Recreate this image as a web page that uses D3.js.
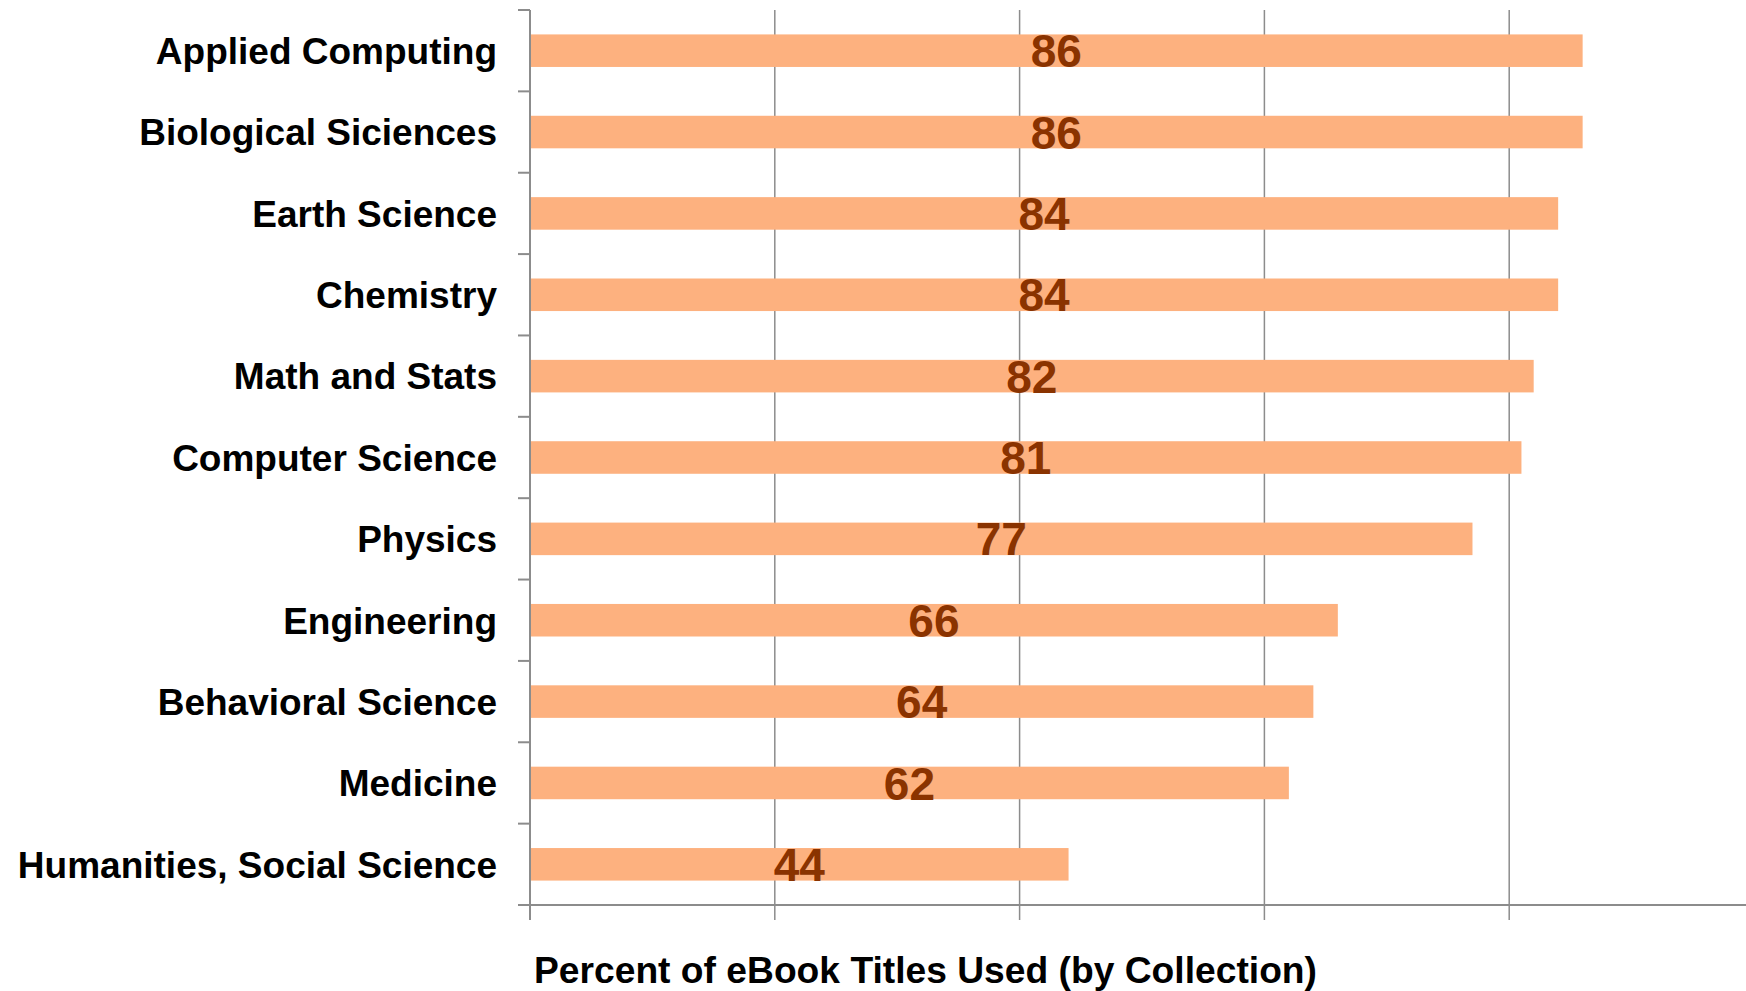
<!DOCTYPE html>
<html>
<head>
<meta charset="utf-8">
<script src="https://cdn.jsdelivr.net/npm/d3@7"></script>
<style>
  html, body { margin: 0; padding: 0; background: #fff; }
  svg { display: block; }
</style>
</head>
<body>
<svg id="chart" width="1746" height="991"></svg>
<script>
const categories = [
  "Applied Computing",
  "Biological Siciences",
  "Earth Science",
  "Chemistry",
  "Math and Stats",
  "Computer Science",
  "Physics",
  "Engineering",
  "Behavioral Science",
  "Medicine",
  "Humanities, Social Science"
];
const values = [86, 86, 84, 84, 82, 81, 77, 66, 64, 62, 44];
const xTicks = [0, 20, 40, 60, 80, 100];
const axisTitle = "Percent of eBook Titles Used (by Collection)";

(function () {
const svg = d3.select("#chart");
const W = 1746;
const plotLeft = 530, plotTop = 10, plotBottom = 905;

const x = d3.scaleLinear().domain([0, 100]).range([plotLeft, plotLeft + 1224]);
const y = d3.scaleBand().domain(categories).range([plotTop, plotBottom])
  .paddingInner(0.6).paddingOuter(0.3);

const gridColor = "#8c8c8c";
const fontFam = "'Liberation Sans', Arial, sans-serif";

// vertical gridlines (extend below axis as ticks)
svg.append("g").selectAll("line")
  .data(xTicks.filter(t => t > 0))
  .join("line")
  .attr("x1", d => x(d)).attr("x2", d => x(d))
  .attr("y1", plotTop).attr("y2", plotBottom + 15)
  .attr("stroke", gridColor).attr("stroke-width", 1.5);

// bars
svg.append("g").selectAll("rect")
  .data(categories)
  .join("rect")
  .attr("x", x(0))
  .attr("y", d => y(d))
  .attr("width", (d, i) => x(values[i]) - x(0))
  .attr("height", y.bandwidth())
  .attr("fill", "#FDB17F");

// y axis line
svg.append("line")
  .attr("x1", plotLeft).attr("x2", plotLeft)
  .attr("y1", plotTop).attr("y2", plotBottom + 15)
  .attr("stroke", gridColor).attr("stroke-width", 2);

// y axis ticks at band boundaries
const step = y.step();
const boundaries = d3.range(categories.length + 1).map(i => plotTop + i * step);
svg.append("g").selectAll("line")
  .data(boundaries)
  .join("line")
  .attr("x1", plotLeft - 12).attr("x2", plotLeft)
  .attr("y1", d => d).attr("y2", d => d)
  .attr("stroke", gridColor).attr("stroke-width", 2);

// x axis line
svg.append("line")
  .attr("x1", plotLeft - 12).attr("x2", W)
  .attr("y1", plotBottom).attr("y2", plotBottom)
  .attr("stroke", gridColor).attr("stroke-width", 2);

// category labels
svg.append("g").selectAll("text")
  .data(categories)
  .join("text")
  .attr("x", 497)
  .attr("y", d => y(d) + y.bandwidth() / 2)
  .attr("dy", "0.36em")
  .attr("text-anchor", "end")
  .attr("font-family", fontFam)
  .attr("font-weight", "bold")
  .attr("font-size", 37)
  .attr("fill", "#000")
  .text(d => d);

// value labels
svg.append("g").selectAll("text")
  .data(categories)
  .join("text")
  .attr("x", (d, i) => x(values[i] / 2))
  .attr("y", d => y(d) + y.bandwidth() / 2)
  .attr("dy", "0.36em")
  .attr("text-anchor", "middle")
  .attr("font-family", fontFam)
  .attr("font-weight", "bold")
  .attr("font-size", 46)
  .attr("fill", "#8A3300")
  .text((d, i) => values[i]);

// axis title
svg.append("text")
  .attr("x", 534)
  .attr("y", 983)
  .attr("font-family", fontFam)
  .attr("font-weight", "bold")
  .attr("font-size", 36)
  .attr("textLength", 783)
  .attr("lengthAdjust", "spacingAndGlyphs")
  .attr("fill", "#000")
  .text(axisTitle);
})();
</script>
</body>
</html>
